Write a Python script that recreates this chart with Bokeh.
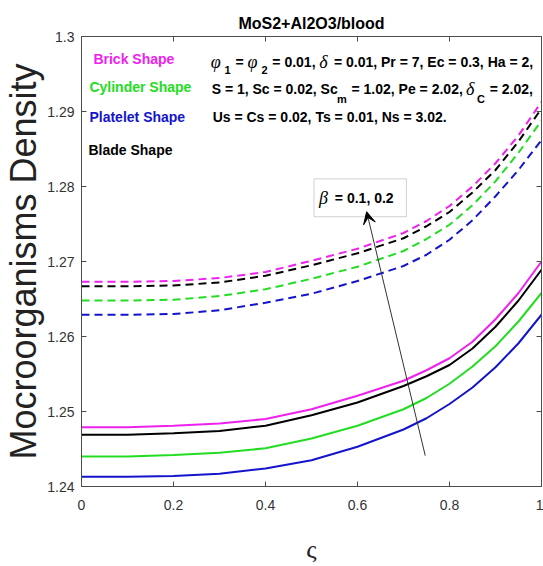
from bokeh.plotting import figure
from bokeh.models import (Label, Arrow, VeeHead, BoxAnnotation, LinearAxis,
                          FixedTicker, Range1d)
from bokeh.embed import file_html
from bokeh.resources import INLINE

# ---------------- data ----------------
zeta = [0.0, 0.1, 0.2, 0.3, 0.4, 0.5, 0.6, 0.7, 0.75, 0.8, 0.85, 0.9, 0.95, 1.0]

# beta = 0.1 (solid)
brick_b1    = [1.2479, 1.2479, 1.2481, 1.2484, 1.2490, 1.2503, 1.2521, 1.2541, 1.2555, 1.2571, 1.2593, 1.2623, 1.2658, 1.2700]
cylinder_b1 = [1.2440, 1.2440, 1.2442, 1.2445, 1.2451, 1.2464, 1.2481, 1.2503, 1.2518, 1.2537, 1.2560, 1.2587, 1.2620, 1.2658]
platelet_b1 = [1.2413, 1.2413, 1.2414, 1.2417, 1.2424, 1.2435, 1.2453, 1.2476, 1.2491, 1.2510, 1.2532, 1.2559, 1.2591, 1.2629]
blade_b1    = [1.2469, 1.2469, 1.2471, 1.2474, 1.2481, 1.2495, 1.2512, 1.2534, 1.2547, 1.2562, 1.2584, 1.2613, 1.2648, 1.2689]

# beta = 0.2 (dashed)
brick_b2    = [1.2673, 1.2673, 1.2674, 1.2678, 1.2686, 1.2701, 1.2717, 1.2738, 1.2754, 1.2774, 1.2800, 1.2831, 1.2868, 1.2913]
cylinder_b2 = [1.2648, 1.2648, 1.2649, 1.2654, 1.2663, 1.2677, 1.2693, 1.2714, 1.2730, 1.2749, 1.2775, 1.2807, 1.2845, 1.2888]
platelet_b2 = [1.2629, 1.2629, 1.2630, 1.2635, 1.2645, 1.2657, 1.2674, 1.2694, 1.2709, 1.2729, 1.2755, 1.2787, 1.2822, 1.2862]
blade_b2    = [1.2667, 1.2667, 1.2668, 1.2672, 1.2681, 1.2695, 1.2711, 1.2731, 1.2747, 1.2766, 1.2792, 1.2822, 1.2860, 1.2904]

shape_names = ["Brick Shape", "Cylinder Shape", "Platelet Shape", "Blade Shape"]
shape_colors = ["#ee22ee", "#22dd22", "#1414cc", "#000000"]

x_ticks = [0, 0.2, 0.4, 0.6, 0.8, 1]
x_tick_labels = ["0", "0.2", "0.4", "0.6", "0.8", "1"]
y_ticks = [1.24, 1.25, 1.26, 1.27, 1.28, 1.29, 1.3]
y_tick_labels = ["1.24", "1.25", "1.26", "1.27", "1.28", "1.29", "1.3"]

title_text = "MoS2+Al2O3/blood"
x_label = "\u03c2"
y_label = "Mocroorganisms Density"
beta_text = "= 0.1, 0.2"

# ---------------- layout ----------------
W, H = 543, 566
FL, FR, FT, FB = 78, 541, 36, 488          # frame edges in pixels
XMIN, XMAX, YMIN, YMAX = 0.0, 1.0, 1.24, 1.30

def dx(px):
    return XMIN + (px - FL) / (FR - FL) * (XMAX - XMIN)

def dy(py):
    return YMAX - (py - FT) / (FB - FT) * (YMAX - YMIN)

SANS = "Liberation Sans"
SERIF = "Liberation Serif"
AXC = "#4d4d4d"
TXC = "#333333"

p = figure(width=W, height=H, x_range=Range1d(XMIN, XMAX), y_range=Range1d(YMIN, YMAX),
           output_backend="svg", toolbar_location=None,
           min_border_left=FL, min_border_right=W - FR,
           min_border_top=FT, min_border_bottom=H - FB,
           background_fill_color="white", border_fill_color="white")
p.xgrid.visible = False
p.ygrid.visible = False
p.outline_line_color = AXC
p.outline_line_width = 1

p.title.text = title_text
p.title.align = "center"
p.title.text_font = SANS
p.title.text_font_style = "bold"
p.title.text_font_size = "16px"
p.title.text_color = "black"

def style_axis(ax, ticks, labels, show_labels=True):
    ax.ticker = FixedTicker(ticks=ticks)
    ax.major_label_overrides = dict(zip(ticks, labels))
    ax.axis_line_color = AXC
    ax.major_tick_line_color = AXC
    ax.major_tick_in = 5
    ax.major_tick_out = 0
    ax.minor_tick_in = 0
    ax.minor_tick_out = 0
    ax.minor_tick_line_color = None
    ax.major_label_text_font = SANS
    ax.major_label_text_color = TXC
    if show_labels:
        ax.major_label_text_font_size = "14px"
    else:
        ax.major_label_text_font_size = "0px"
        ax.major_label_standoff = 0

xa = p.xaxis[0]
style_axis(xa, x_ticks, x_tick_labels)
xa.major_label_standoff = 13
xa.axis_label = x_label
xa.axis_label_text_font = SERIF
xa.axis_label_text_font_style = "normal"
xa.axis_label_text_font_size = "26px"
xa.axis_label_text_color = "#222222"
xa.axis_label_standoff = 22

ya = p.yaxis[0]
style_axis(ya, y_ticks, y_tick_labels)
ya.major_label_standoff = 7
ya.axis_label = y_label
ya.axis_label_text_font = SANS
ya.axis_label_text_font_style = "normal"
ya.axis_label_text_font_size = "36px"
ya.axis_label_text_color = "#222222"
ya.axis_label_standoff = 0

top_ax = LinearAxis()
style_axis(top_ax, x_ticks, ["" for _ in x_ticks], show_labels=False)
p.add_layout(top_ax, "above")
right_ax = LinearAxis()
style_axis(right_ax, y_ticks, ["" for _ in y_ticks], show_labels=False)
p.add_layout(right_ax, "right")

# ---------------- curves ----------------
solid = [brick_b1, cylinder_b1, platelet_b1, blade_b1]
dashed = [brick_b2, cylinder_b2, platelet_b2, blade_b2]
for ys, c in zip(dashed, shape_colors):
    p.line(zeta, ys, line_color=c, line_width=2, line_dash="8 5")
for ys, c in zip(solid, shape_colors):
    p.line(zeta, ys, line_color=c, line_width=2)

# ---------------- text helpers ----------------
AW = {' ': 278, ',': 278, '.': 278, '=': 584, '+': 584, '/': 278,
      'A': 722, 'B': 722, 'C': 722, 'D': 722, 'E': 667, 'H': 722, 'M': 833, 'N': 722,
      'O': 778, 'P': 667, 'S': 667, 'T': 611, 'U': 722,
      'a': 556, 'b': 611, 'c': 556, 'd': 611, 'e': 556, 'g': 611, 'h': 611, 'i': 278,
      'k': 556, 'l': 278, 'm': 889, 'n': 611, 'o': 611, 'p': 611, 'r': 389, 's': 556,
      't': 333, 'y': 556}
GW = {"\u03c6": 12, "\u03b4": 9, "\u03b2": 10}

def tw(s, size):
    return sum(AW.get(ch, 556) for ch in s) / 1000.0 * size

def put(text, px, py, size, font, style, color="black"):
    p.add_layout(Label(x=dx(px), y=dy(py), text=text, text_font=font,
                       text_font_style=style, text_font_size=f"{size}px",
                       text_baseline="middle", text_align="left", text_color=color))

MAIN, SUB, GREEK = 14, 11, 18

def line_of(parts, px, cy, sub_dy):
    x = px
    for text, kind in parts:
        if kind == "g":
            put(text, x, cy, GREEK, SERIF, "italic")
            x += GW.get(text, 10) + 2
        elif kind == "s":
            put(text, x, cy + sub_dy, SUB, SANS, "bold")
            x += tw(text, SUB) + 1
        else:
            stripped = text.lstrip(" ")
            lead = tw(text[:len(text) - len(stripped)], MAIN)
            put(stripped.rstrip(" "), x + lead, cy, MAIN, SANS, "bold")
            x += tw(text, MAIN)

line_of([("\u03c6", "g"), ("1", "s"), (" = ", "b"), ("\u03c6", "g"), ("2", "s"),
         (" = 0.01, ", "b"), ("\u03b4", "g"),
         (" = 0.01, Pr = 7, Ec = 0.3, Ha = 2,", "b")], 208, 62, 8)
line_of([("S = 1, Sc = 0.02, Sc", "b"), ("m", "s"), (" = 1.02, Pe = 2.02, ", "b"),
         ("\u03b4", "g"), ("C", "s"), (" = 2.02,", "b")], 209, 89, 10)
line_of([("Us = Cs = 0.02, Ts = 0.01, Ns = 3.02.", "b")], 210, 117, 0)

# legend-like coloured labels
legend_pos = [(90, 59), (86, 87), (86, 117), (85, 150)]
for name, c, (lx, ly) in zip(shape_names, shape_colors, legend_pos):
    put(name, lx, ly, MAIN, SANS, "bold", c)

# beta box with arrow
p.add_layout(BoxAnnotation(left=dx(312), right=dx(405), top=dy(179), bottom=dy(217),
                           fill_color="white", fill_alpha=1.0,
                           line_color="#666666", line_width=1, level="underlay"))
put("\u03b2", 317, 198, GREEK, SERIF, "italic")
put(beta_text, 333, 198, MAIN, SANS, "bold")

p.add_layout(Arrow(end=VeeHead(size=12, fill_color="black", line_color="black"),
                   x_start=dx(424), y_start=dy(457), x_end=dx(365), y_end=dy(212),
                   line_color="#333333", line_width=1))

open("out.html", "w").write(file_html(p, INLINE))
